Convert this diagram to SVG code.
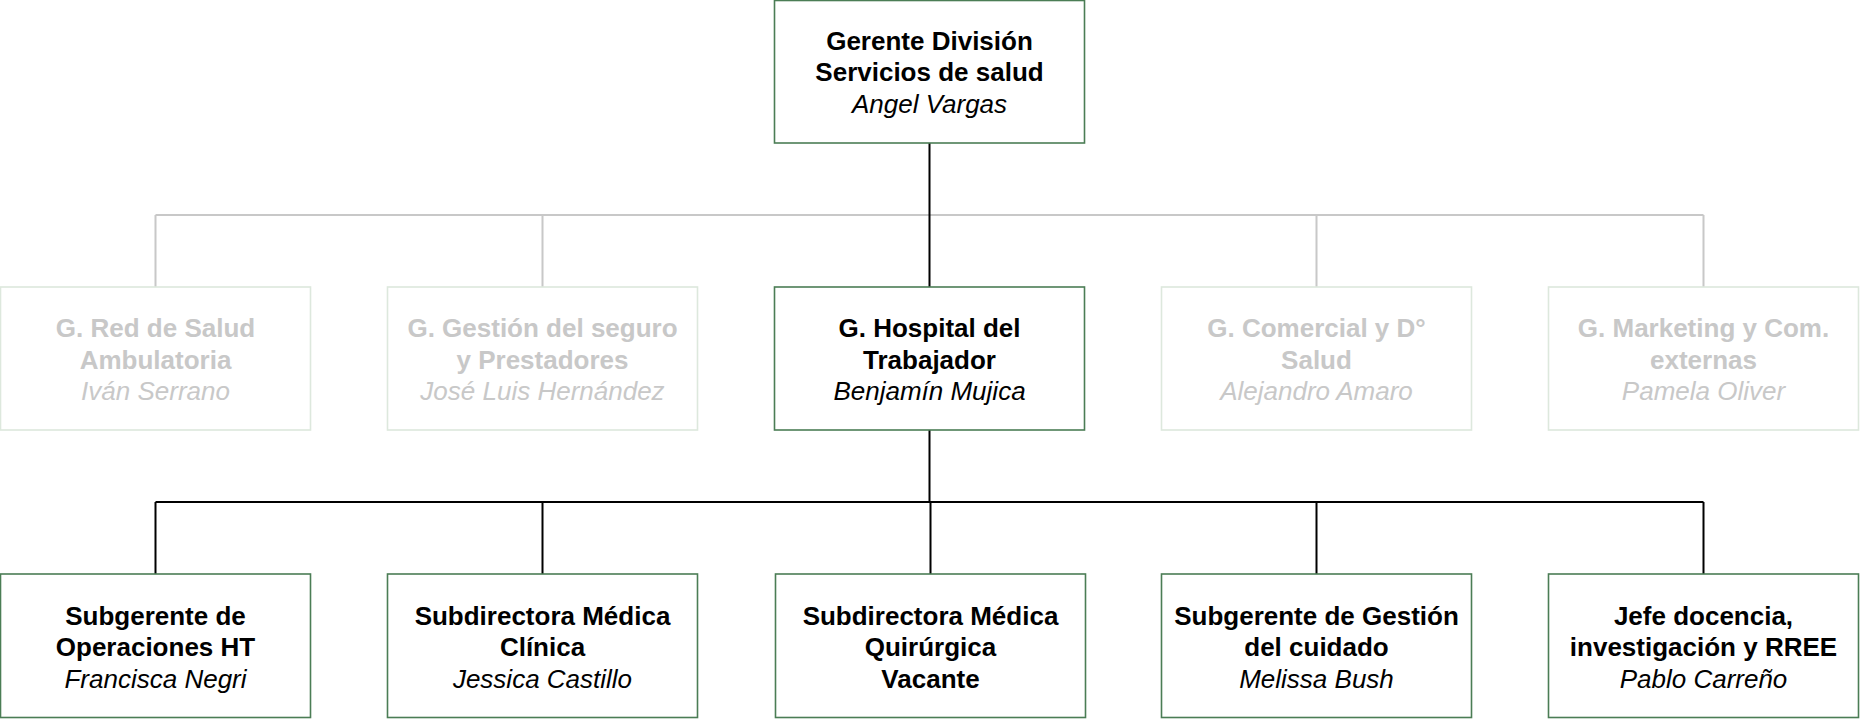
<svg xmlns="http://www.w3.org/2000/svg" width="1860" height="719" viewBox="0 0 1860 719">
<style>
.box{fill:#fff;stroke:#4b7d55;stroke-width:1.6}
.gbox{fill:#fff;stroke:#dde8dd;stroke-width:1.6}
.t{font-family:"Liberation Sans",Arial,sans-serif;font-size:26px;text-anchor:middle;fill:#000}
.b{font-weight:bold}
.i{font-style:italic}
.g{fill:#c8c8c8}
.ln{fill:none;stroke:#000;stroke-width:2}
.gln{fill:none;stroke:#c8c8c8;stroke-width:2}
</style>
<rect width="1860" height="719" fill="#fff"/>
<g id="connectors">
<path class="gln" d="M155.5 215H1703.5M155.5 215V287M542.5 215V287M1316.5 215V287M1703.5 215V287"/>
<path class="ln" d="M929.5 143V287M929.5 430V502M155.5 502H1703.5M155.5 502V574M542.5 502V574M930.5 502V574M1316.5 502V574M1703.5 502V574"/>
</g>
<g id="n-gerente">
<rect class="box" x="774.5" y="0.5" width="310" height="142.5"/>
<text class="t b" x="929.5" y="49.5">Gerente División</text>
<text class="t b" x="929.5" y="81">Servicios de salud</text>
<text class="t i" x="929.5" y="112.5">Angel Vargas</text>
</g>
<g id="n-red">
<rect class="gbox" x="0.5" y="287" width="310" height="143"/>
<text class="t b g" x="155.5" y="337">G. Red de Salud</text>
<text class="t b g" x="155.5" y="368.5">Ambulatoria</text>
<text class="t i g" x="155.5" y="400">Iván Serrano</text>
</g>
<g id="n-seguro">
<rect class="gbox" x="387.5" y="287" width="310" height="143"/>
<text class="t b g" x="542.5" y="337">G. Gestión del seguro</text>
<text class="t b g" x="542.5" y="368.5">y Prestadores</text>
<text class="t i g" x="542.5" y="400">José Luis Hernández</text>
</g>
<g id="n-hospital">
<rect class="box" x="774.5" y="287" width="310" height="143"/>
<text class="t b" x="929.5" y="337">G. Hospital del</text>
<text class="t b" x="929.5" y="368.5">Trabajador</text>
<text class="t i" x="929.5" y="400">Benjamín Mujica</text>
</g>
<g id="n-comercial">
<rect class="gbox" x="1161.5" y="287" width="310" height="143"/>
<text class="t b g" x="1316.5" y="337">G. Comercial y D°</text>
<text class="t b g" x="1316.5" y="368.5">Salud</text>
<text class="t i g" x="1316.5" y="400">Alejandro Amaro</text>
</g>
<g id="n-marketing">
<rect class="gbox" x="1548.5" y="287" width="310" height="143"/>
<text class="t b g" x="1703.5" y="337">G. Marketing y Com.</text>
<text class="t b g" x="1703.5" y="368.5">externas</text>
<text class="t i g" x="1703.5" y="400">Pamela Oliver</text>
</g>
<g id="n-operaciones">
<rect class="box" x="0.5" y="574" width="310" height="143.5"/>
<text class="t b" x="155.5" y="624.5">Subgerente de</text>
<text class="t b" x="155.5" y="656">Operaciones HT</text>
<text class="t i" x="155.5" y="687.5">Francisca Negri</text>
</g>
<g id="n-clinica">
<rect class="box" x="387.5" y="574" width="310" height="143.5"/>
<text class="t b" x="542.5" y="624.5">Subdirectora Médica</text>
<text class="t b" x="542.5" y="656">Clínica</text>
<text class="t i" x="542.5" y="687.5">Jessica Castillo</text>
</g>
<g id="n-quirurgica">
<rect class="box" x="775.5" y="574" width="310" height="143.5"/>
<text class="t b" x="930.5" y="624.5">Subdirectora Médica</text>
<text class="t b" x="930.5" y="656">Quirúrgica</text>
<text class="t b" x="930.5" y="687.5">Vacante</text>
</g>
<g id="n-cuidado">
<rect class="box" x="1161.5" y="574" width="310" height="143.5"/>
<text class="t b" x="1316.5" y="624.5">Subgerente de Gestión</text>
<text class="t b" x="1316.5" y="656">del cuidado</text>
<text class="t i" x="1316.5" y="687.5">Melissa Bush</text>
</g>
<g id="n-docencia">
<rect class="box" x="1548.5" y="574" width="310" height="143.5"/>
<text class="t b" x="1703.5" y="624.5">Jefe docencia,</text>
<text class="t b" x="1703.5" y="656">investigación y RREE</text>
<text class="t i" x="1703.5" y="687.5">Pablo Carreño</text>
</g>
</svg>
